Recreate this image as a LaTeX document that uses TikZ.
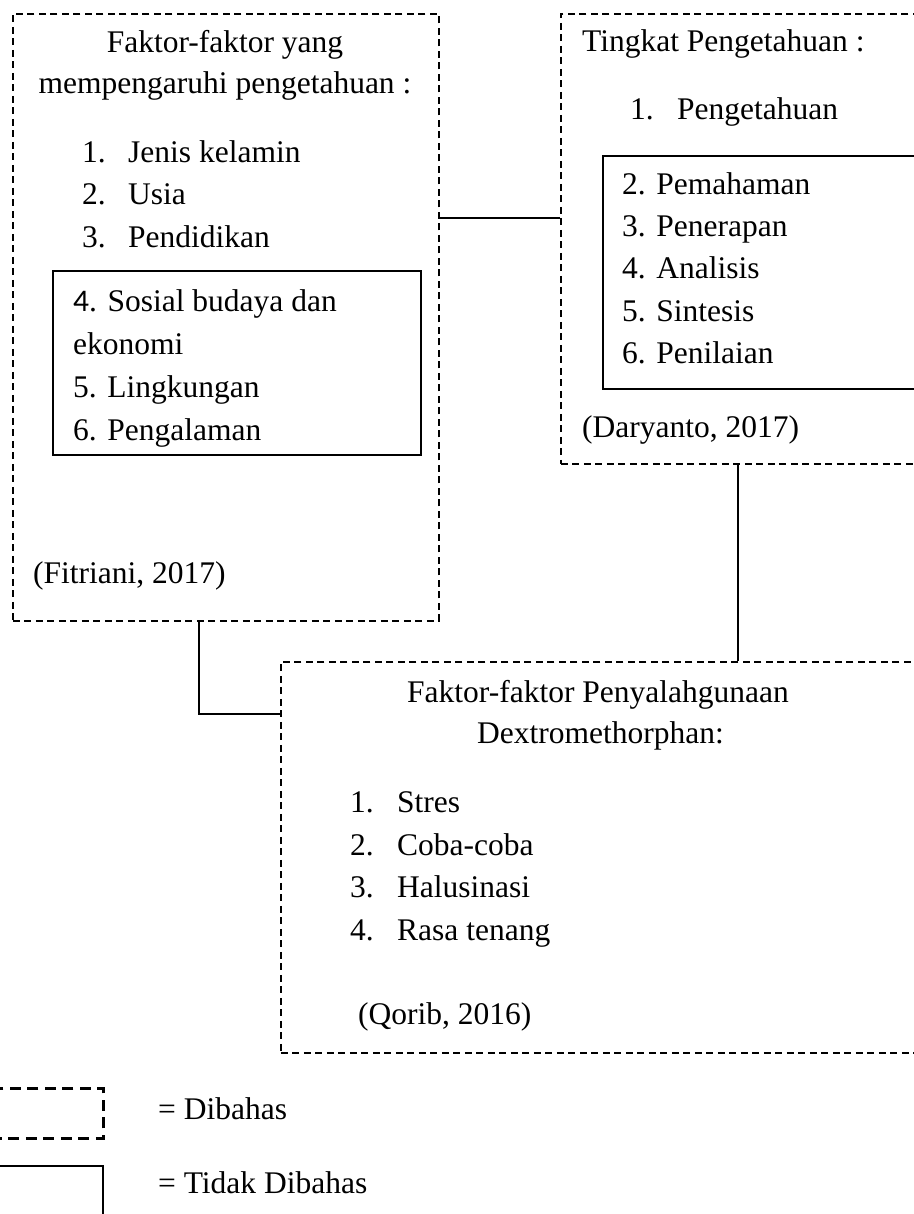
\documentclass[tikz,border=0pt]{standalone}
\usepackage{fontspec}
\setmainfont{Liberation Serif}
\newfontfamily\carl{Carlito}
\begin{document}
\begin{tikzpicture}[x=1pt,y=-1pt,
  dbox/.style={draw, line width=1.8pt, dash pattern=on 7pt off 4.5pt, anchor=north west, inner sep=0pt},
  sbox/.style={draw, line width=2.4pt, anchor=north west, inner sep=0pt},
  conn/.style={draw, line width=1.8pt},
  txt/.style={inner sep=0pt, anchor=base west, font=\fontsize{31.5}{38}\selectfont},
  ctxt/.style={txt, anchor=base}]
\useasboundingbox (0,0) rectangle (913,1214);
% boxes
\node[dbox, minimum width=426pt, minimum height=607pt] (A) at (12,13) {};
\node[sbox, minimum width=368pt, minimum height=184pt] (Ai) at (52,270) {};
\node[dbox, minimum width=380pt, minimum height=450pt] (B) at (560,13) {};
\node[sbox, minimum width=340pt, minimum height=233pt] (Bi) at (602,155) {};
\node[dbox, minimum width=660pt, minimum height=391pt] (C) at (280,661) {};
\node[dbox, line width=2.6pt, dash pattern=on 11pt off 6.5pt, minimum width=130pt, minimum height=50pt] (L1) at (-28,1087) {};
\node[sbox, line width=2.4pt, minimum width=130pt, minimum height=90pt] (L2) at (-28,1165) {};
% connector coordinates
\coordinate (ab) at (0,218);
\coordinate (bc) at (738,0);
\coordinate (ac) at (199,714);
\draw[conn] (A.east |- ab) -- (B.west |- ab);
\draw[conn] (B.south -| bc) -- (C.north -| bc);
\draw[conn] (A.south -| ac) |- (C.west |- ac);
% box A text
\node[ctxt] (a1) at (225,53) {Faktor-faktor yang};
\node[ctxt] (a2) at (225,94) {mempengaruhi pengetahuan :};
\node[txt] (a3n) at (82,163) {1.};
\node[txt] (a3) at (128,163) {Jenis kelamin};
\node[txt] (a4n) at (82,205) {2.};
\node[txt] (a4) at (128,205) {Usia};
\node[txt] (a5n) at (82,248) {3.};
\node[txt] (a5) at (128,248) {Pendidikan};
\node[txt] (a6) at (73,312) {{\carl 4}. Sosial budaya dan};
\node[txt] (a7) at (73,354) {ekonomi};
\node[txt] (a8) at (73,397) {5. Lingkungan};
\begin{scope}
\clip (52,270) rectangle (420,454);
\node[txt] (a9) at (73,440) {6. Pengalaman};
\end{scope}
\node[txt] (a10) at (33,583) {(Fitriani, 2017)};
% box B text
\node[txt] (b1) at (582,52) {Tingkat Pengetahuan :};
\node[txt] (b2n) at (630,120) {1.};
\node[txt] (b2) at (677,120) {Pengetahuan};
\node[txt] (b3) at (622,195) {2. Pemahaman};
\node[txt] (b4) at (622,237) {3. Penerapan};
\node[txt] (b5) at (622,279) {4. Analisis};
\node[txt] (b6) at (622,321) {5. Sintesis};
\node[txt] (b7) at (622,363) {6. Penilaian};
\node[txt] (b8) at (582,437) {(Daryanto, 2017)};
% box C text
\node[txt] (c1) at (407,702) {Faktor-faktor Penyalahgunaan};
\node[txt] (c2) at (477,743) {Dextromethorphan:};
\node[txt] (c3n) at (350,812) {1.};
\node[txt] (c3) at (397,812) {Stres};
\node[txt] (c4n) at (350,855) {2.};
\node[txt] (c4) at (397,855) {Coba-coba};
\node[txt] (c5n) at (350,897) {3.};
\node[txt] (c5) at (397,897) {Halusinasi};
\node[txt] (c6n) at (350,940) {4.};
\node[txt] (c6) at (397,940) {Rasa tenang};
\node[txt] (c7) at (358,1024) {(Qorib, 2016)};
% legend
\node[txt] (l1) at (158,1119) {= Dibahas};
\node[txt] (l2) at (158,1193) {= Tidak Dibahas};
\end{tikzpicture}
\end{document}
